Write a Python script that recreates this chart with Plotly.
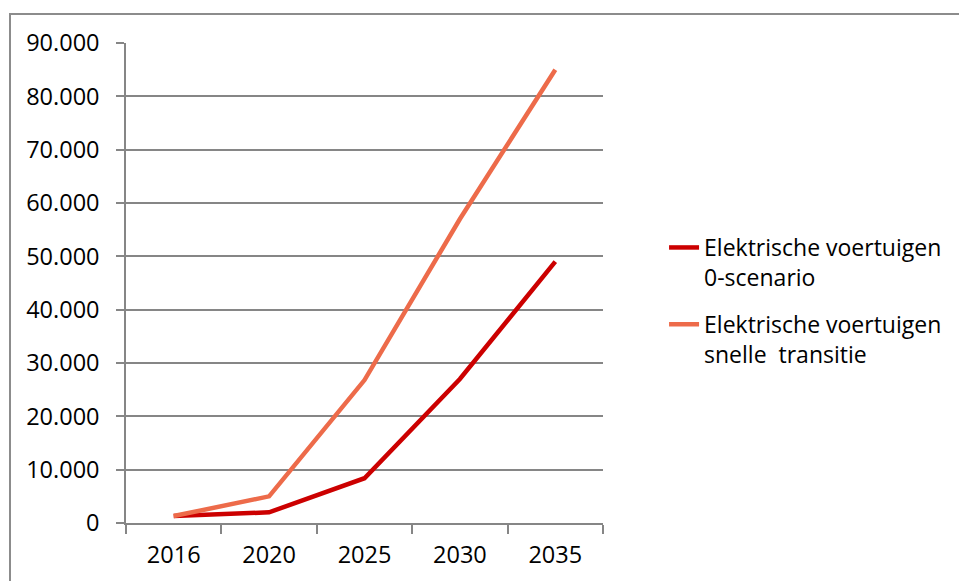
import plotly.graph_objects as go

years = ["2016", "2020", "2025", "2030", "2035"]
scenario_0 = [1300, 2000, 8400, 27000, 49000]
snelle_transitie = [1300, 5000, 26800, 57000, 85000]
y_ticks = [0, 10000, 20000, 30000, 40000, 50000, 60000, 70000, 80000, 90000]

FONT = "Open Sans"
GRID = "#868686"

fig = go.Figure()
fig.add_trace(go.Scatter(
    x=years, y=scenario_0, mode="lines", legendgroup="a",
    name="Elektrische voertuigen<br>0-scenario",
    line=dict(color="#CC0000", width=4.5),
))
fig.add_trace(go.Scatter(
    x=years, y=snelle_transitie, mode="lines", legendgroup="b",
    name="Elektrische voertuigen<br>snelle  transitie",
    line=dict(color="#ED6B4A", width=4.5),
))

fig.update_layout(
    width=959, height=581,
    margin=dict(l=126, r=356, t=43, b=58),
    paper_bgcolor="white", plot_bgcolor="white",
    separators=",.",
    font=dict(family=FONT, size=23, color="black"),
    showlegend=True,
    legend=dict(
        x=1.128, xanchor="left", y=0.4625, yanchor="middle",
        valign="top", font=dict(family=FONT, size=23, color="black"),
        bgcolor="rgba(0,0,0,0)", traceorder="grouped", tracegroupgap=14,
    ),
    shapes=[dict(
        type="rect", xref="paper", yref="paper",
        x0=(10 - 126) / 477, x1=(970 - 126) / 477,
        y0=(523 - 600) / 480, y1=(523 - 14) / 480,
        line=dict(color="#8C8C8C", width=2), fillcolor="rgba(0,0,0,0)", layer="below",
    )],
)
fig.update_xaxes(
    type="category", range=[-0.5, 4.5], tickson="boundaries", ticks="outside", ticklen=9,
    tickcolor=GRID, tickwidth=1.5, showline=True, linecolor=GRID, linewidth=1.5,
    showgrid=False, ticklabelstandoff=10,
    tickfont=dict(family=FONT, size=23.5),
)
fig.update_yaxes(
    range=[0, 90000], tickvals=y_ticks, tickformat=",.0f",
    ticks="outside", ticklen=8, tickcolor=GRID, tickwidth=1.5,
    showline=True, linecolor=GRID, linewidth=1.5,
    showgrid=True, gridcolor=GRID, gridwidth=1.5, zeroline=False,
    ticklabelstandoff=12, tickfont=dict(family=FONT, size=23.5),
)

fig.write_html("out.html")
